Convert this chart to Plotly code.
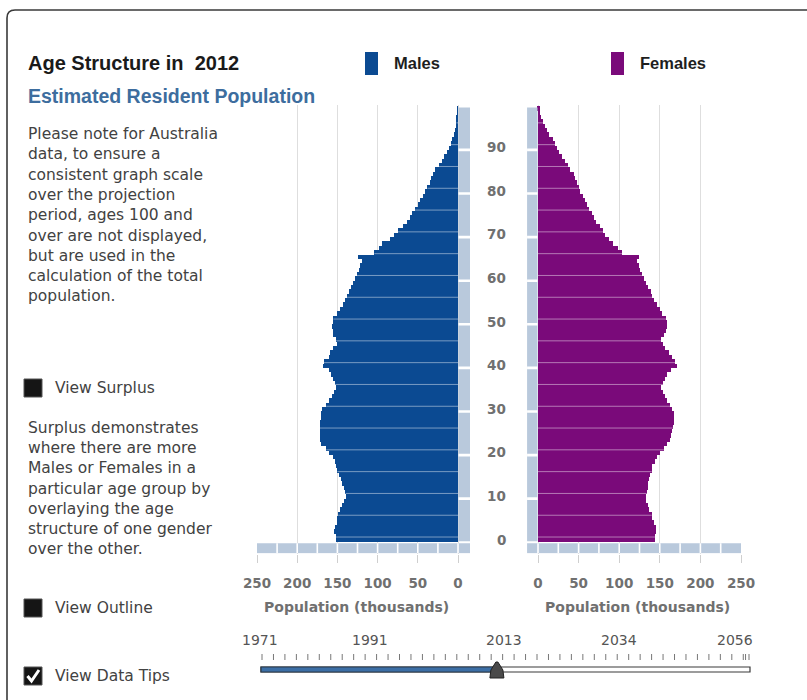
import plotly.graph_objects as go

# ---------------- data ----------------
ages = list(range(100))
males = [152, 152, 154, 153, 150, 150, 149, 147, 144, 142,
         139, 140, 142, 144, 146, 148, 150, 152, 153, 156,
         160, 164, 170, 172, 172, 172, 172, 172, 171, 170,
         169, 164, 160, 157, 154, 152, 153, 156, 158, 161,
         168, 167, 161, 159, 155, 150, 152, 155, 156, 157,
         156, 155, 150, 147, 143, 140, 138, 135, 133, 131,
         128, 126, 123, 122, 120, 124, 104, 98, 95, 84,
         80, 75, 68, 64, 60, 57, 54, 50, 47, 44,
         41, 38, 35, 33, 31, 28, 24, 20, 17, 14,
         11, 9, 7, 5, 4, 3, 2, 1.5, 1, 0.6]
females = [144, 144, 145, 145, 143, 141, 140, 137, 135, 133,
           133, 134, 135, 136, 137, 138, 140, 141, 144, 147,
           150, 155, 159, 162, 164, 165, 166, 167, 168, 167,
           165, 163, 159, 156, 154, 152, 154, 157, 159, 164,
           171, 169, 165, 161, 157, 154, 152, 155, 158, 159,
           159, 158, 153, 150, 146, 143, 141, 139, 136, 133,
           130, 128, 126, 124, 122, 125, 104, 98, 93, 87,
           83, 80, 76, 72, 69, 66, 63, 60, 58, 55,
           52, 50, 48, 46, 44, 40, 37, 33, 29, 26,
           23, 21, 19, 14, 11, 9, 6, 4, 3, 2]
age_ticks = [0, 10, 20, 30, 40, 50, 60, 70, 80, 90]
pop_ticks = [0, 50, 100, 150, 200, 250]
strip_steps = [0, 25, 50, 75, 100, 125, 150, 175, 200, 225]
year_labels = ["1971", "1991", "2013", "2034", "2056"]
year_start, year_end, year_now = 1971, 2056, 2012

# ---------------- geometry helpers ----------------
W, H = 807, 700
def px(x):
    return x / W
def py(y):
    return 1 - y / H

MALE = "#0b4a92"
FEMALE = "#7a0a7a"
STRIP = "#b9c9dc"
GRID = "#dedede"
TICKTXT = "#707070"
TXT = "#424242"
BODY_FONT = "DejaVu Sans, Verdana, sans-serif"
HEAD_FONT = "Liberation Sans, Arial, sans-serif"

Y_RANGE = [-2.6, 100.3]
Y_DOM = [py(553.6), py(105.0)]
XL_RANGE = [250, -15]
XL_DOM = [px(257), px(470.06)]
XR_RANGE = [-13.5, 250]
XR_DOM = [px(527.04), px(741)]

fig = go.Figure()
fig.add_trace(go.Bar(y=[a + 0.5 for a in ages], x=males, orientation="h", width=1,
                     marker=dict(color=MALE, line=dict(width=0)), name="Males",
                     xaxis="x", yaxis="y", showlegend=False,
                     hovertemplate="Age %{customdata}<br>Males: %{x}k<extra></extra>",
                     customdata=ages))
fig.add_trace(go.Bar(y=[a + 0.5 for a in ages], x=females, orientation="h", width=1,
                     marker=dict(color=FEMALE, line=dict(width=0)), name="Females",
                     xaxis="x2", yaxis="y2", showlegend=False,
                     hovertemplate="Age %{customdata}<br>Females: %{x}k<extra></extra>",
                     customdata=ages))

shapes = []
annotations = []

def panel_decor(xref, yref, strip_from, vals):
    # vertical strip next to age labels
    shapes.append(dict(type="rect", xref=xref, yref=yref, x0=-0.6, x1=strip_from,
                       y0=0.25, y1=99.7, fillcolor=STRIP, line=dict(width=0), layer="above"))
    for t in age_ticks[1:]:
        shapes.append(dict(type="rect", xref=xref, yref=yref, x0=-0.6, x1=strip_from,
                           y0=t - 0.3, y1=t + 0.3, fillcolor="white", line=dict(width=0),
                           layer="above"))
    # bottom strip
    shapes.append(dict(type="rect", xref=xref, yref=yref, x0=strip_from, x1=250,
                       y0=-0.23, y1=-2.52, fillcolor=STRIP, line=dict(width=0), layer="above"))
    for s in strip_steps:
        shapes.append(dict(type="line", xref=xref, yref=yref, x0=s, x1=s,
                           y0=-0.23, y1=-2.52, line=dict(color="white", width=1.6),
                           layer="above"))
    # 5-year separator lines across bars
    for k in range(20):
        a = 5 * k + 1
        shapes.append(dict(type="line", xref=xref, yref=yref, x0=0, x1=vals[a],
                           y0=a + 0.2, y1=a + 0.2,
                           line=dict(color="rgba(255,255,255,0.45)", width=1),
                           layer="above"))

panel_decor("x", "y", -15, males)
panel_decor("x2", "y2", -13.5, females)

# age labels between the panels
for t in age_ticks:
    annotations.append(dict(xref="paper", yref="y", x=px(507.5), y=t + 0.6,
                            text=str(t), showarrow=False, xanchor="right", yanchor="middle",
                            font=dict(family=BODY_FONT, size=13.5, color=TICKTXT, weight="bold")))

# axis titles
for cx in (356.5, 637):
    annotations.append(dict(xref="paper", yref="paper", x=px(cx), y=py(607),
                            text="Population (thousands)", showarrow=False,
                            xanchor="center", yanchor="middle",
                            font=dict(family=BODY_FONT, size=14, color=TICKTXT, weight="bold")))

# title, subtitle, legend
annotations.append(dict(xref="paper", yref="paper", x=px(26), y=py(63),
                        text="Age Structure in \u00a02012", showarrow=False,
                        xanchor="left", yanchor="middle",
                        font=dict(family=HEAD_FONT, size=20, color="#1a1a1a", weight="bold")))
annotations.append(dict(xref="paper", yref="paper", x=px(26), y=py(96),
                        text="Estimated Resident Population", showarrow=False,
                        xanchor="left", yanchor="middle",
                        font=dict(family=HEAD_FONT, size=19.5, color="#3d6d9e", weight="bold")))
for x0, col, label in ((365, MALE, "Males"), (611, FEMALE, "Females")):
    shapes.append(dict(type="rect", xref="paper", yref="paper", x0=px(x0), x1=px(x0 + 13),
                       y0=py(75), y1=py(52), fillcolor=col, line=dict(width=0)))
    annotations.append(dict(xref="paper", yref="paper", x=px(x0 + 27), y=py(63),
                            text=label, showarrow=False, xanchor="left", yanchor="middle",
                            font=dict(family=HEAD_FONT, size=16.5, color="#1e1e1e",
                                      weight="bold")))

# left-hand notes
note1 = ["Please note for Australia", "data, to ensure a",
         "consistent graph scale", "over the projection",
         "period, ages 100 and", "over are not displayed,",
         "but are used in the", "calculation of the total", "population."]
note2 = ["Surplus demonstrates", "where there are more",
         "Males or Females in a", "particular age group by",
         "overlaying the age", "structure of one gender", "over the other."]
for i, line in enumerate(note1):
    annotations.append(dict(xref="paper", yref="paper", x=px(26), y=py(134 + 20.3 * i),
                            text=line, showarrow=False, xanchor="left", yanchor="middle",
                            font=dict(family=BODY_FONT, size=15.5, color=TXT)))
for i, line in enumerate(note2):
    annotations.append(dict(xref="paper", yref="paper", x=px(26), y=py(428 + 20.2 * i),
                            text=line, showarrow=False, xanchor="left", yanchor="middle",
                            font=dict(family=BODY_FONT, size=15.5, color=TXT)))

# checkboxes
for cy, label, checked in ((388, "View Surplus", False), (608, "View Outline", False),
                           (676, "View Data Tips", True)):
    shapes.append(dict(type="rect", xref="paper", yref="paper", x0=px(24), x1=px(42),
                       y0=py(cy + 9), y1=py(cy - 9), fillcolor="#151515",
                       line=dict(color="#555", width=1)))
    if checked:
        shapes.append(dict(type="path", xref="paper", yref="paper",
                           path=f"M {px(27.5)} {py(cy)} L {px(31.5)} {py(cy + 5)} L {px(39)} {py(cy - 6)}",
                           line=dict(color="white", width=3)))
    annotations.append(dict(xref="paper", yref="paper", x=px(53), y=py(cy),
                            text=label, showarrow=False, xanchor="left", yanchor="middle",
                            font=dict(family=BODY_FONT, size=15.5, color=TXT)))

# year slider
def yx(year):
    return 262 + (year - year_start) / (year_end - year_start) * 487
label_px = [260, 370, 504, 619, 735]
for lab, lx in zip(year_labels, label_px):
    annotations.append(dict(xref="paper", yref="paper", x=px(lx), y=py(640),
                            text=lab, showarrow=False, xanchor="center", yanchor="middle",
                            font=dict(family=BODY_FONT, size=14, color="#555")))
for yr in list(range(year_start, year_end, 2)) + [year_end - 0.6, year_end]:
    shapes.append(dict(type="line", xref="paper", yref="paper", x0=px(yx(yr)), x1=px(yx(yr)),
                       y0=py(654), y1=py(660), line=dict(color="#777", width=1)))
shapes.append(dict(type="rect", xref="paper", yref="paper", x0=px(yx(year_start) - 1),
                   x1=px(yx(year_end) + 1), y0=py(672), y1=py(667), fillcolor="white",
                   line=dict(color="#3a3a3a", width=1.2)))
shapes.append(dict(type="rect", xref="paper", yref="paper", x0=px(yx(year_start) - 1),
                   x1=px(yx(year_now)), y0=py(672), y1=py(667), fillcolor="#3c6fa6",
                   line=dict(color="#2a3a4a", width=1.2)))
tx = yx(year_now)
shapes.append(dict(type="path", xref="paper", yref="paper",
                   path=(f"M {px(tx - 7)} {py(678)} L {px(tx - 6)} {py(670)} L {px(tx - 1)} {py(662)} "
                         f"L {px(tx + 1)} {py(662)} L {px(tx + 6)} {py(670)} L {px(tx + 7)} {py(678)} Z"),
                   fillcolor="#4a4a4a", line=dict(color="#222", width=1)))

# outer frame
shapes.append(dict(type="path", xref="paper", yref="paper",
                   path=(f"M {px(7)} {py(710)} L {px(7)} {py(18)} Q {px(7)} {py(10)} {px(15)} {py(10)} "
                         f"L {px(820)} {py(10)}"),
                   line=dict(color="#3a3a3a", width=1.6)))

axis_common = dict(tickvals=pop_ticks, ticks="outside", ticklen=8, tickcolor="#cfcfcf",
                   tickwidth=1, showgrid=True, gridcolor=GRID, gridwidth=1, zeroline=False,
                   showline=False, fixedrange=True, ticklabelstandoff=9, automargin=False,
                   tickfont=dict(family=BODY_FONT, size=13.5, color=TICKTXT, weight="bold"))
yaxis_common = dict(domain=Y_DOM, range=Y_RANGE, showticklabels=False, showgrid=False,
                    zeroline=False, ticks="", fixedrange=True, automargin=False)

fig.update_layout(
    width=W, height=H, margin=dict(l=0, r=0, t=0, b=0, pad=0, autoexpand=False),
    paper_bgcolor="white", plot_bgcolor="white",
    bargap=0, barmode="overlay", showlegend=False,
    xaxis=dict(domain=XL_DOM, range=XL_RANGE, anchor="y", **axis_common),
    xaxis2=dict(domain=XR_DOM, range=XR_RANGE, anchor="y2", **axis_common),
    yaxis=dict(anchor="x", **yaxis_common),
    yaxis2=dict(anchor="x2", **yaxis_common),
    shapes=shapes, annotations=annotations,
)

fig.write_html("out.html")
